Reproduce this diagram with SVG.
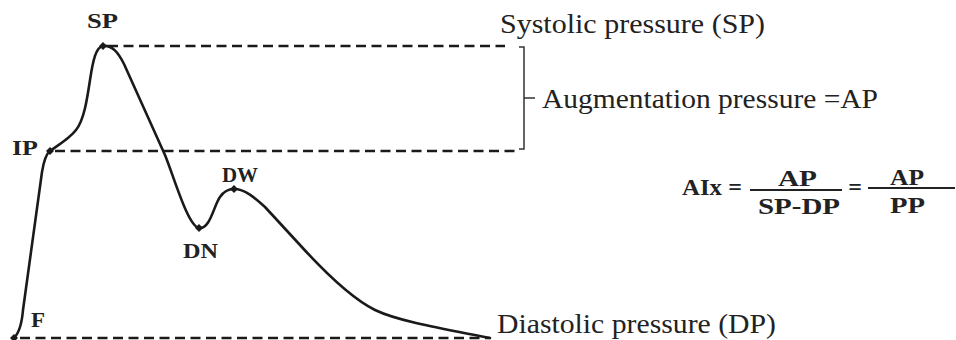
<svg xmlns="http://www.w3.org/2000/svg" width="956" height="340" viewBox="0 0 956 340">
<defs>
<style>
.dash{stroke:#1a1a1a;stroke-width:2.5;stroke-dasharray:10 5.5;fill:none}
.curve{stroke:#1a1a1a;stroke-width:2.6;fill:none;stroke-linejoin:round;stroke-linecap:round}
.br{stroke:#333;stroke-width:1.5;fill:none}
text{font-family:'Liberation Serif','Times New Roman',serif;fill:#222}
.lbl{font-weight:bold;font-size:22px}
.txt{font-size:28px}
.fx{font-weight:bold;font-size:24px}
.dot{fill:#1a1a1a}
</style>
<path id="d" d="M0,-4 L4,0 L0,4 L-4,0 Z"/>
</defs>
<g id="connectors">
<line class="dash" x1="108" y1="46" x2="505" y2="46"/>
<line class="dash" x1="55" y1="151" x2="520" y2="151"/>
<line class="dash" x1="20" y1="338" x2="490" y2="338"/>
<path class="br" d="M519,47 L524,47 L524,98 L535,98 M524,98 L524,149 L519,149"/>
</g>
<g id="waveform">
<path class="curve" d="M14,338 C20,332 22,322 23,310 L42,172 C44,160 46,154 50,151 C60,144 70,138 76,130 C84,120 87,100 90,80 C93,60 96,47 103,46 C112,45 118,52 124,64 C135,88 150,122 165,155 C175,180 188,226 199,228 C210,230 214,205 220,197 C224,191 228,189 234,189 C245,189 255,198 265,207 L300,245 C330,278 355,300 375,310 C400,322 450,330 490,338"/>
</g>
<g id="SP"><use href="#d" class="dot" x="103" y="46"/><text class="lbl" x="87" y="28" textLength="31" lengthAdjust="spacingAndGlyphs">SP</text></g>
<g id="IP"><use href="#d" class="dot" x="50" y="151"/><text class="lbl" x="12" y="155" textLength="26" lengthAdjust="spacingAndGlyphs">IP</text></g>
<g id="DN"><use href="#d" class="dot" x="199" y="228"/><text class="lbl" x="183" y="258" textLength="35" lengthAdjust="spacingAndGlyphs">DN</text></g>
<g id="DW"><use href="#d" class="dot" x="234" y="189"/><text class="lbl" x="222" y="182" textLength="36" lengthAdjust="spacingAndGlyphs">DW</text></g>
<g id="F"><use href="#d" class="dot" x="14" y="338"/><text class="lbl" x="31" y="327" textLength="14" lengthAdjust="spacingAndGlyphs">F</text></g>
<g id="systolic"><text class="txt" x="500" y="33" textLength="265" lengthAdjust="spacingAndGlyphs">Systolic pressure (SP)</text></g>
<g id="augmentation"><text class="txt" x="542" y="108" textLength="336" lengthAdjust="spacingAndGlyphs">Augmentation pressure =AP</text></g>
<g id="diastolic"><text class="txt" x="497" y="333" textLength="279" lengthAdjust="spacingAndGlyphs">Diastolic pressure (DP)</text></g>
<g id="formula">
<text class="fx" x="682" y="195" textLength="40" lengthAdjust="spacingAndGlyphs">AIx</text>
<text class="fx" x="735" y="195" text-anchor="middle">=</text>
<text class="fx" x="778" y="186" textLength="39" lengthAdjust="spacingAndGlyphs">AP</text>
<line x1="750" y1="190" x2="842" y2="190" stroke="#222" stroke-width="1.8"/>
<text class="fx" x="758" y="214" textLength="82" lengthAdjust="spacingAndGlyphs">SP-DP</text>
<text class="fx" x="855" y="195" text-anchor="middle">=</text>
<text class="fx" x="890" y="185" textLength="34" lengthAdjust="spacingAndGlyphs">AP</text>
<line x1="868" y1="188" x2="955" y2="188" stroke="#222" stroke-width="1.8"/>
<text class="fx" x="890" y="213" textLength="35" lengthAdjust="spacingAndGlyphs">PP</text>
</g>
</svg>
